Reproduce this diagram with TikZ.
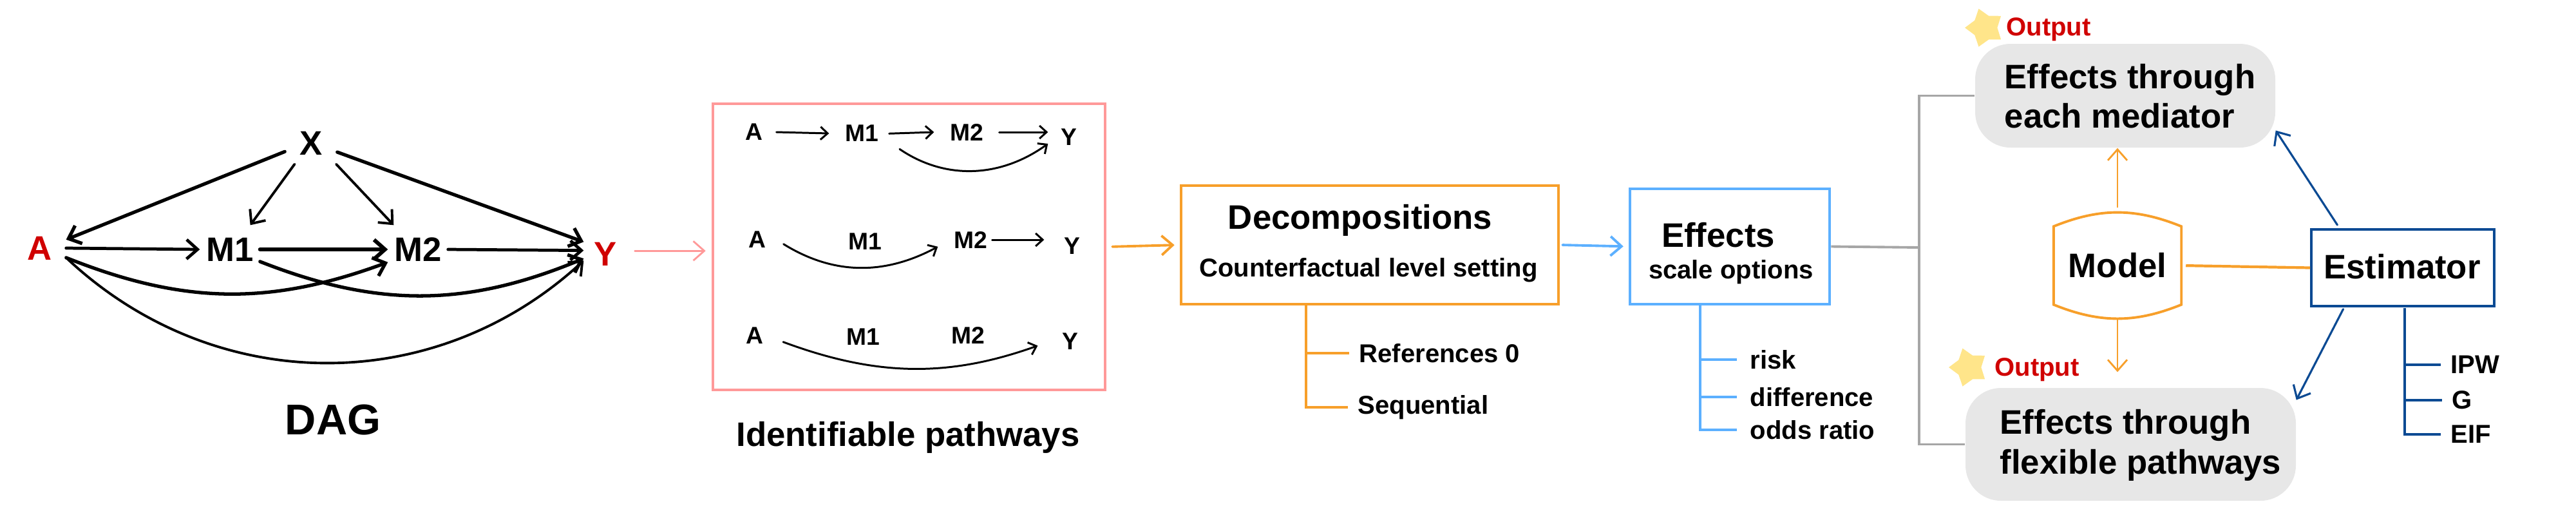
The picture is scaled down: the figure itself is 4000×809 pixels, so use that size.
\documentclass[tikz,border=0pt]{standalone}
\usepackage{fontspec}
\setmainfont{Liberation Sans}
\usetikzlibrary{positioning, shapes.geometric, arrows.meta}
\definecolor{pinkline}{HTML}{FF9999}
\definecolor{orangeline}{HTML}{F79F2A}
\definecolor{blueline}{HTML}{5CB0FF}
\definecolor{grayline}{HTML}{A6A6A6}
\definecolor{navyline}{HTML}{0B4A93}
\definecolor{outfill}{HTML}{E7E7E7}
\definecolor{starfill}{HTML}{FFE58A}
\definecolor{redtext}{HTML}{D00000}
\tikzset{
	bigtext/.style={font=\fontsize{15}{17.5}\selectfont\bfseries, inner sep=0pt, align=left}
}
\tikzset{
	smalltext/.style={font=\fontsize{11.4}{13}\selectfont\bfseries, inner sep=0pt}
}
\tikzset{
	dagnode/.style={font=\fontsize{15}{17}\selectfont\bfseries, inner sep=0pt, minimum height=7.4mm}
}
\tikzset{
	pathnode/.style={font=\fontsize{10.6}{12}\selectfont\bfseries, inner sep=0pt, minimum height=3.6mm}
}
\tikzset{
	leaf/.style={smalltext, anchor=west, inner xsep=1.5mm}
}
\tikzset{
	frame/.style={draw, line width=1.3pt, inner sep=0pt},
	outbox/.style={fill=outfill, rounded corners=5.5mm, inner sep=0pt},
	outstar/.style={star, star points=5, star point ratio=1.6, shape border rotate=90, fill=starfill, minimum size=6.2mm, inner sep=0pt},
	barb/.style={-{Straight Barb[length=1.7mm,width=3mm]}, line cap=round},
	dagedge/.style={barb, line width=1.35pt},
	pathedge/.style={-{Straight Barb[length=1.1mm,width=2mm]}, line cap=round, line width=0.85pt}
}
\begin{document}
\begin{tikzpicture}[x=0.1mm, y=-0.1mm]
      \useasboundingbox (0,0) rectangle (4000,809);
      \node[dagnode, minimum width=8mm, minimum height=6.4mm] (X) at (483,222) {X};
      \node[dagnode, minimum width=8mm, text=redtext] (A) at (62,385) {A};
      \node[dagnode, minimum width=9.2mm] (M1) at (357,387) {M1};
      \node[dagnode, minimum width=9.2mm] (M2) at (649,387) {M2};
      \node[dagnode, minimum width=6.6mm, text=redtext] (Y) at (940,394) {Y};
      \node[bigtext, font=\fontsize{19}{21}\selectfont\bfseries] (dag) at (517,651) {DAG};
      \draw[dagedge, line width=1.5pt] (X.198) -- (A.18);
      \draw[dagedge, line width=1.1pt] (X.232) -- (M1.50);
      \draw[dagedge, line width=1.1pt] (X.-40) -- (M2.135);
      \draw[dagedge, line width=1.5pt] (X.-19) -- (Y.151);
      \draw[dagedge] (A.east) -- (M1.west);
      \draw[dagedge, line width=1.7pt] (M1.east) -- (M2.west);
      \draw[dagedge] (M2.east) -- (Y.171);
      \draw[dagedge, line width=1.5pt] (A.-20) to[bend right=21] (M2.203);
      \draw[dagedge, line width=1.5pt] (M1.-22) to[bend right=22] (Y.192);
      \draw[dagedge, line width=1.1pt] (A.-20) to[bend right=43] (Y.197);

      \node[frame, draw=pinkline, minimum width=60.9mm, minimum height=44.4mm] (pathbox) at (1411.5,383) {};
      \node[bigtext] (pathtitle) at (1410,679) {Identifiable pathways};
      \node[pathnode, minimum width=6.8mm] (A1) at (1171,205) {A};
      \node[pathnode, minimum width=10mm] (M11) at (1338,207) {M1};
      \node[pathnode, minimum width=10mm] (M21) at (1501,205) {M2};
      \node[pathnode, minimum width=6.4mm] (Y1) at (1660,213) {Y};
      \draw[pathedge] (A1.east) -- (M11.west);
      \draw[pathedge, shorten <=-0.8mm] (M11.east) -- (M21.west);
      \draw[pathedge] (M21.east) -- (Y1.west |- M21.east);
      \draw[pathedge, shorten <=1mm] (M11.south east) to[bend right=35] (Y1.197);
      \node[pathnode, minimum width=6.8mm] (A2) at (1176,372) {A};
      \node[pathnode, minimum width=10mm] (M12) at (1343,375) {M1};
      \node[pathnode, minimum width=10mm] (M22) at (1507,372) {M2};
      \node[pathnode, minimum width=6.4mm] (Y2) at (1665,382) {Y};
      \draw[pathedge, shorten <=0.7mm] (A2.-5) to[bend right=30] (M22.192);
      \draw[pathedge, shorten <=-1.7mm, shorten >=1.1mm] (M22.east) -- (Y2.west |- M22.east);
      \node[pathnode, minimum width=6.8mm] (A3) at (1172,521) {A};
      \node[pathnode, minimum width=10mm] (M13) at (1340,523) {M1};
      \node[pathnode, minimum width=10mm] (M23) at (1503,520) {M2};
      \node[pathnode, minimum width=6.4mm] (Y3) at (1662,530) {Y};
      \draw[pathedge, shorten <=1mm, shorten >=1.9mm] (A3.-10) to[bend right=20] (Y3.west);
      \draw[barb, draw=pinkline, line width=0.8pt, shorten <=1.2mm, shorten >=0.9mm] (Y.8) -- (pathbox.west |- Y.8);

      \node[frame, draw=orangeline, minimum width=58.6mm, minimum height=18.4mm] (decompbox) at (2127,380) {};
      \node[bigtext] (decomptitle) at (2112,342) {Decompositions};
      \node[smalltext] (decompsub) at (2125,419) {Counterfactual level setting};
      \node[leaf] (reference) at (2095,548) {References 0};
      \node[leaf] (sequential) at (2093,632) {Sequential};
      \coordinate (decomptrunk) at (2028,472);
      \draw[draw=orangeline, line width=1pt] (decomptrunk) |- (reference.west);
      \draw[draw=orangeline, line width=1pt] (decomptrunk) |- (sequential.west);
      \draw[barb, draw=orangeline, line width=1.1pt, shorten <=0.9mm, shorten >=0.8mm] (pathbox.east) -- (decompbox.west);

      \node[frame, draw=blueline, minimum width=31mm, minimum height=17.9mm] (effectbox) at (2686,382.5) {};
      \node[bigtext] (effecttitle) at (2668,365) {Effects};
      \node[smalltext] (effectsub) at (2688,422) {scale options};
      \node[leaf, inner xsep=2mm] (risk) at (2697,558) {risk};
      \node[leaf, inner xsep=2mm] (difference) at (2697,616) {difference};
      \node[leaf, inner xsep=2mm] (oddsratio) at (2697,667) {odds ratio};
      \coordinate (effecttrunk) at (2640,472);
      \draw[draw=blueline, line width=1pt] (effecttrunk) |- (risk.west);
      \draw[draw=blueline, line width=1pt] (effecttrunk) |- (difference.west);
      \draw[draw=blueline, line width=1pt] (effecttrunk) |- (oddsratio.west);
      \draw[barb, draw=blueline, line width=1.1pt, shorten <=0.4mm, shorten >=0.8mm] (decompbox.east) -- (effectbox.west);

      \node[outbox, minimum width=46.6mm, minimum height=16.1mm] (medbox) at (3300,148.5) {};
      \node[outbox, minimum width=51.3mm, minimum height=17.5mm] (flexbox) at (3308.5,689.5) {};
      \node[bigtext, anchor=west] (medtext) at (3112,149) {Effects through\\each mediator};
      \node[bigtext, anchor=west] (flextext) at (3105,691) {Effects through\\flexible pathways};
      \node[outstar] (medstar) at (3082,43) {};
      \node[outstar] (flexstar) at (3057,570) {};
      \node[smalltext, text=redtext] (medout) at (3181,46) {Output};
      \node[smalltext, text=redtext] (flexout) at (3163,574) {Output};
      \coordinate (busjoin) at (2980,384);
      \draw[draw=grayline, line width=1.1pt] (effectbox.east) -- (busjoin);
      \draw[draw=grayline, line width=1pt] (busjoin) |- (medbox.west);
      \draw[draw=grayline, line width=1pt] (busjoin) |- (flexbox.west);

      \node[bigtext, minimum width=19.7mm, minimum height=16.4mm, align=center] (model) at (3288,412) {Model};
      \draw[draw=orangeline, line width=1.1pt] ([yshift=-2.2mm]model.north west) to[bend left=22] ([yshift=-2.2mm]model.north east) -- ([yshift=2.2mm]model.south east) to[bend left=22] ([yshift=2.2mm]model.south west) -- cycle;
      \node[frame, draw=navyline, line width=1.1pt, minimum width=28.4mm, minimum height=11.9mm] (estimator) at (3731,415.5) {};
      \node[bigtext] (esttext) at (3730,414) {Estimator};
      \node[leaf] (ipw) at (3790,566) {IPW};
      \node[leaf] (g) at (3792,621) {G};
      \node[leaf] (eif) at (3790,674) {EIF};
      \coordinate (esttrunk) at (3734,478);
      \draw[draw=navyline, line width=0.9pt] (esttrunk) |- (ipw.west);
      \draw[draw=navyline, line width=0.9pt] (esttrunk) |- (g.west);
      \draw[draw=navyline, line width=0.9pt] (esttrunk) |- (eif.west);
      \draw[barb, draw=orangeline, line width=0.8pt, shorten <=0.8mm] (model.north) -- (model.north |- medbox.south);
      \draw[barb, draw=orangeline, line width=0.8pt, shorten >=2.4mm] (model.south) -- (model.south |- flexbox.north);
      \draw[draw=orangeline, line width=1.2pt, shorten <=0.7mm] (model.east) -- (estimator.west);
      \draw[barb, draw=navyline, line width=0.9pt, shorten <=0.6mm] (estimator.148) -- (medbox.-13);
      \draw[barb, draw=navyline, line width=0.9pt, shorten <=0.3mm] (estimator.214) -- (flexbox.15);
    \end{tikzpicture}
\end{document}
